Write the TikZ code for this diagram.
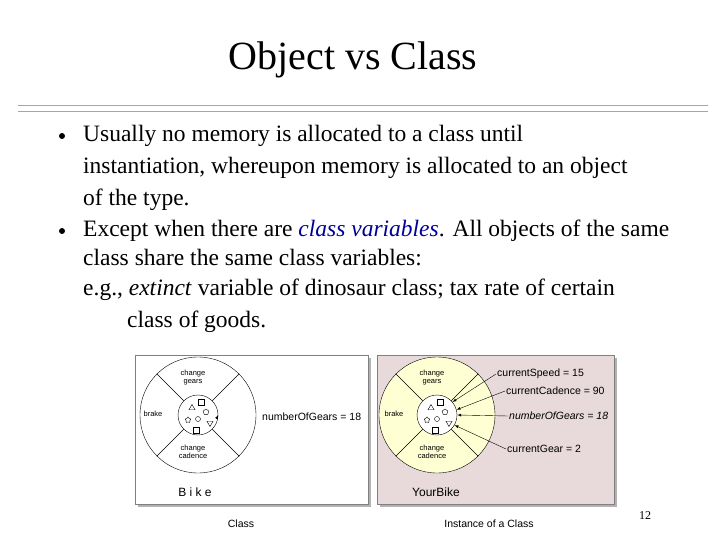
\documentclass[tikz,border=0pt]{standalone}
\usepackage{fontspec}
\setmainfont{Liberation Serif}
\setsansfont{Liberation Sans}
\usetikzlibrary{shapes.geometric}
\definecolor{pinkbg}{RGB}{232,218,218}
\definecolor{wheel}{RGB}{255,255,212}
\begin{document}
\begin{tikzpicture}[x=1pt,y=-1pt,
  txt/.style={anchor=west,font=\fontsize{23.5}{26}\selectfont,inner sep=0},
  tiny/.style={font=\sffamily\fontsize{7.5}{8}\selectfont,align=center,inner sep=0},
  lbl/.style={font=\sffamily\fontsize{10.5}{11}\selectfont,inner sep=1pt},
  sym/.style={draw,inner sep=0,minimum size=6pt}]
\useasboundingbox (0,0) rectangle (720,540);

\node (T) at (353,60) [font=\fontsize{40}{44}\selectfont] {Object vs Class};
\draw [gray!70] (18,105) -- (708,105);
\draw [gray!70] (18,111) -- (708,111);

\node (B1) at (62,136) [circle,fill,inner sep=0,minimum size=6pt] {};
\node (L1) at (83,136) [txt] {Usually no memory is allocated to a class until};
\node (L2) at (83,168) [txt] {instantiation, whereupon memory is allocated to an object};
\node (L3) at (83,200) [txt] {of the type.};
\node (B2) at (62,231) [circle,fill,inner sep=0,minimum size=6pt] {};
\node (L4) at (83,231) [txt] {Except when there are \textcolor{blue!60!black}{\textit{class variables}}. All objects of the same};
\node (L5) at (83,258) [txt] {class share the same class variables:};
\node (L6) at (83,290) [txt] {e.g., \textit{extinct} variable of dinosaur class; tax rate of certain};
\node (L7) at (127,322) [txt] {class of goods.};

% class box
\fill [gray!60] (138,358) rectangle (371,507);
\draw [fill=white,draw=gray] (135,355) rectangle (368,504);
\node (O1) at (198,415) [circle,draw,minimum size=116pt] {};
\node (I1) at (198,415) [circle,draw,minimum size=40pt] {};
\foreach \a in {45,135,225,315}
  \draw (I1.\a) -- (O1.\a);
\node (G1) at (193,378) [tiny] {change\\gears};
\node (K1) at (153,414) [tiny] {brake};
\node (C1) at (193,452) [tiny] {change\\cadence};
\node (N1) at (261,417) [lbl,anchor=west] {numberOfGears = 18};
\draw [-latex] (I1.east) ++(-2,4) -- (I1.east);
\node (S1) at (195,492) [lbl,font=\sffamily\fontsize{12}{13}\selectfont] {B i k e};

% instance box
\fill [gray!60] (380,358) rectangle (617,507);
\draw [fill=pinkbg,draw=gray] (377,355) rectangle (614,504);
\node (O2) at (437,415) [circle,draw,fill=wheel,minimum size=116pt] {};
\node (I2) at (437,415) [circle,draw,fill=white,minimum size=40pt] {};
\foreach \a in {45,135,225,315}
  \draw (I2.\a) -- (O2.\a);
\node (G2) at (432,378) [tiny] {change\\gears};
\node (K2) at (394,414) [tiny] {brake};
\node (C2) at (432,452) [tiny] {change\\cadence};
\node (V1) at (496,374) [lbl,anchor=west] {currentSpeed = 15};
\node (V2) at (505,391) [lbl,anchor=west] {currentCadence = 90};
\node (V3) at (508,416) [lbl,anchor=west] {\textit{numberOfGears = 18}};
\node (V4) at (506,449) [lbl,anchor=west] {currentGear = 2};
\draw [-latex] (V1.west) -- (I2.40);
\draw [-latex] (V2.west) -- (I2.15);
\draw [-latex] (V3.west) -- (I2.0);
\draw [-latex] (V4.west) -- (I2.-30);
\node (S2) at (436,492) [lbl,font=\sffamily\fontsize{12}{13}\selectfont] {YourBike};

% symbols
\foreach \c in {198,437} {
  \node at (\c-6,408) [sym,regular polygon,regular polygon sides=3,minimum size=7pt] {};
  \node at (\c+3,402) [sym,minimum size=6pt] {};
  \node at (\c+8,412) [sym,regular polygon,regular polygon sides=5,minimum size=6pt] {};
  \node at (\c,419) [sym,circle,minimum size=5pt] {};
  \node at (\c-10,420) [sym,star,star points=5,minimum size=6pt] {};
  \node at (\c+12,423) [sym,regular polygon,regular polygon sides=3,shape border rotate=180,minimum size=7pt] {};
  \node at (\c-2,430) [sym,minimum size=6pt] {};
}

\node (CA) at (241,524) [lbl] {Class};
\node (CB) at (489,524) [lbl] {Instance of a Class};
\node (P) at (645,516) [font=\fontsize{12}{14}\selectfont] {12};
\end{tikzpicture}
\end{document}
